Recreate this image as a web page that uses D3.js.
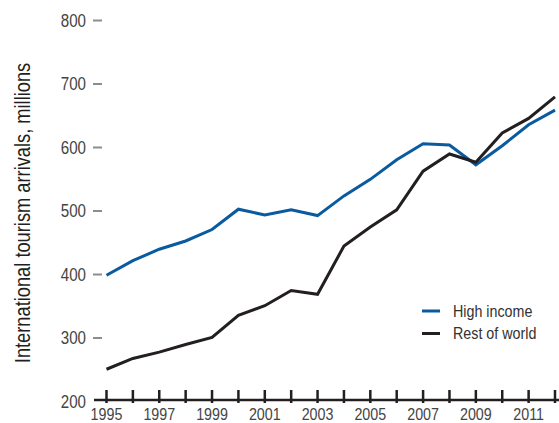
<!DOCTYPE html>
<html><head><meta charset="utf-8">
<script src="https://cdn.jsdelivr.net/npm/d3@7"></script>
<style>
body{margin:0;background:#fff;}
text{font-family:"Liberation Sans","Arial",sans-serif;}
</style></head>
<body><svg id="c" width="559" height="423"></svg>
<script>
const years = [1995,1996,1997,1998,1999,2000,2001,2002,2003,2004,2005,2006,2007,2008,2009,2010,2011,2012];
const highIncome = [398,421,439,452,470,502,493,501,492,523,549,580,605,603,572,602,635,658];
const restOfWorld = [250,267,277,289,300,335,350,374,368,444,474,501,562,589,576,622,645,679];
const yTicks = [200,300,400,500,600,700,800];
const xTickLabels = [1995,1997,1999,2001,2003,2005,2007,2009,2011];
const seriesNames = ["High income","Rest of world"];
const colors = ["#0a5aa0","#231f20"];

const svg = d3.select("#c");
const x = d3.scaleLinear().domain([1995,2012]).range([106.5,555]);
const y = d3.scaleLinear().domain([200,800]).range([401,20]);

// condensed look: squeeze glyphs horizontally
function condense(sel, f){
  sel.each(function(){
    const w = this.getComputedTextLength();
    d3.select(this).attr("textLength", w*f).attr("lengthAdjust","spacingAndGlyphs");
  });
}

// y axis ticks
const ya = svg.append("g").attr("transform","translate(93,0)")
  .call(d3.axisLeft(y).tickValues(yTicks).tickSize(0).tickPadding(7).tickFormat(d3.format("d")));
ya.select(".domain").remove();
ya.selectAll(".tick line").remove();
ya.selectAll(".tick").filter(d=>d!==200).append("line").attr("x1",0).attr("x2",9).attr("stroke","#8c8c8c").attr("stroke-width",2);
ya.selectAll("text").attr("font-size",18).attr("fill","#444").attr("font-family","Liberation Sans, sans-serif").attr("dy","0.35em").call(condense,0.84);

// x axis
const xa = svg.append("g").attr("transform","translate(0,400)");
xa.append("line").attr("x1",94).attr("x2",559).attr("stroke","#231f20").attr("stroke-width",2.5);
xa.selectAll("line.t").data(years).enter().append("line").attr("class","t")
  .attr("x1",d=>x(d)).attr("x2",d=>x(d)).attr("y1",-10).attr("y2",3).attr("stroke","#231f20").attr("stroke-width",2.5);
xa.selectAll("text").data(xTickLabels).enter().append("text")
  .attr("x",d=>x(d)).attr("y",20).attr("text-anchor","middle").attr("font-size",17).attr("fill","#444").text(d=>d).call(condense,0.84);

// y title
svg.append("text").attr("transform","translate(30,213) rotate(-90)").attr("text-anchor","middle")
  .attr("font-size",22).attr("fill","#231f20").text("International tourism arrivals, millions").call(condense,0.83);

const line = d3.line().x((d,i)=>x(years[i])).y(d=>y(d));
[highIncome,restOfWorld].forEach((s,k)=>{
  svg.append("path").datum(s).attr("d",line).attr("fill","none").attr("stroke",colors[k]).attr("stroke-width",3).attr("stroke-linejoin","miter");
});

// legend
seriesNames.forEach((n,k)=>{
  const yy = 311 + k*22.5;
  svg.append("line").attr("x1",422).attr("x2",440).attr("y1",yy).attr("y2",yy).attr("stroke",colors[k]).attr("stroke-width",3);
  svg.append("text").attr("x",453).attr("y",yy).attr("dy","0.35em").attr("font-size",17).attr("fill","#333").text(n).call(condense,0.84);
});
</script></body></html>
